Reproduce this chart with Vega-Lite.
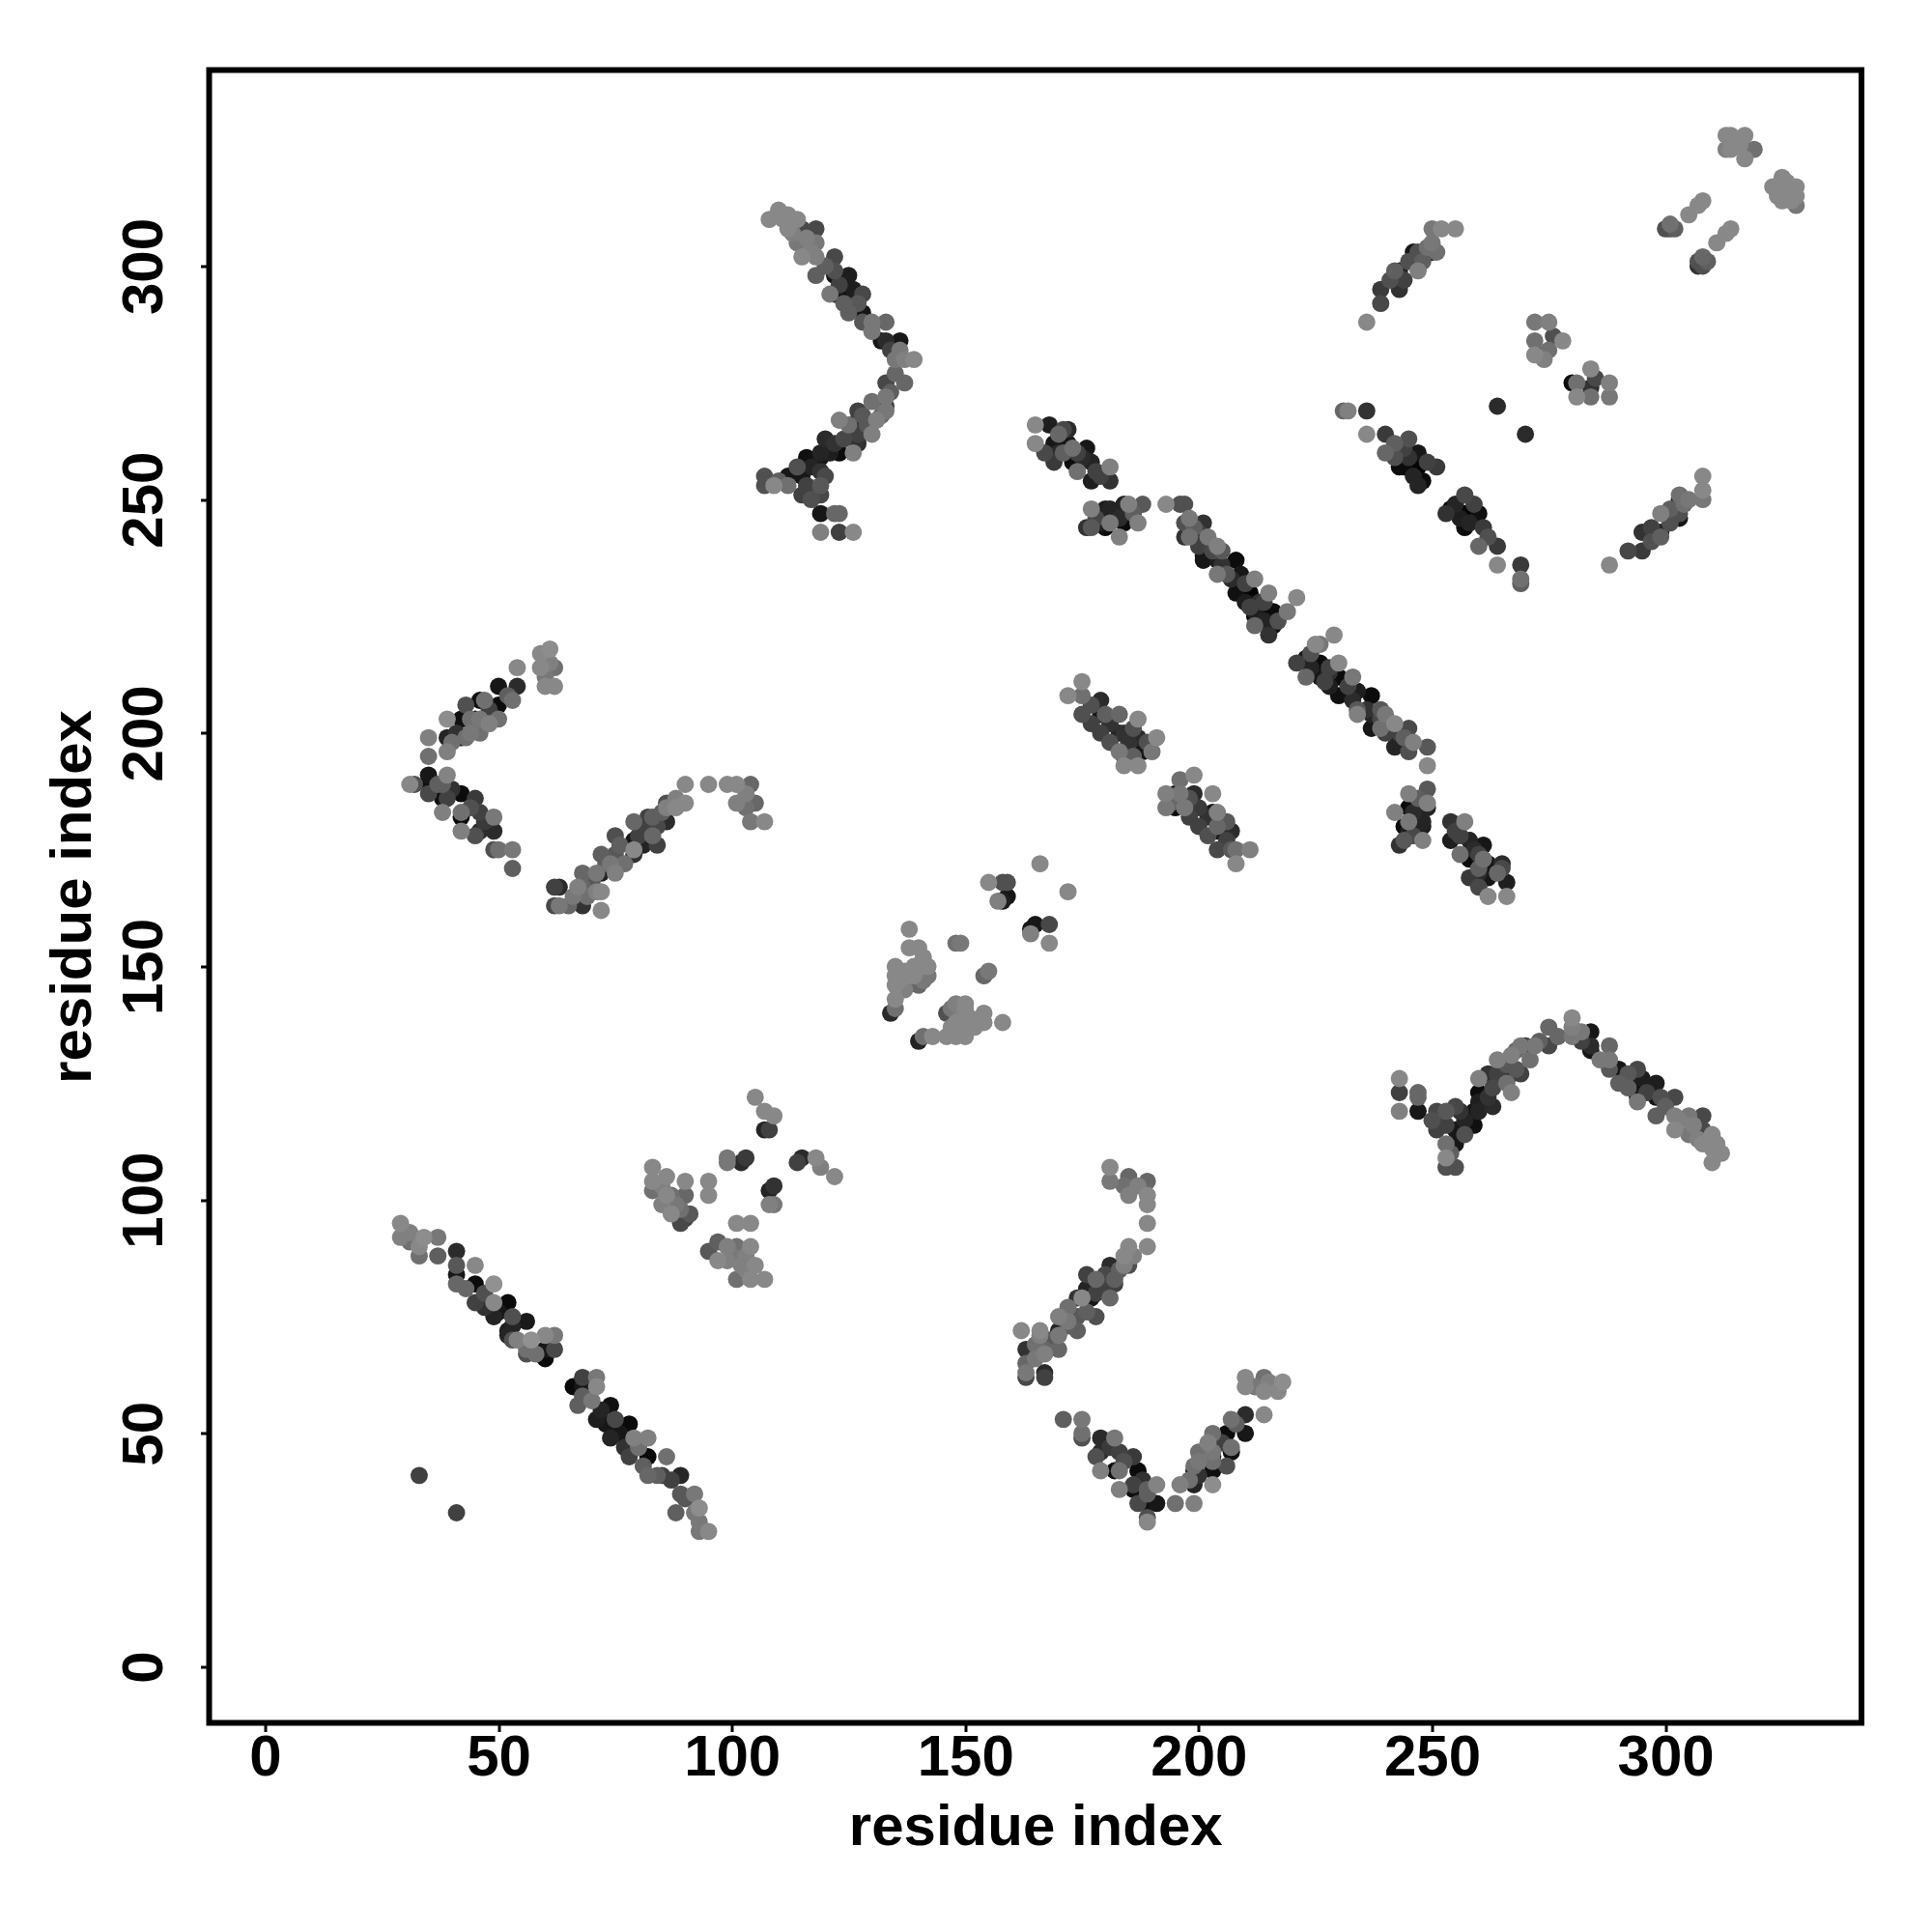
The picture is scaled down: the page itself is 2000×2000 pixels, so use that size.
{"$schema":"https://vega.github.io/schema/vega-lite/v6.json","width":1710.5,"height":1711,"autosize":{"type":"none"},"padding":{"left":216.5,"top":72.5,"right":73,"bottom":216.5},"background":"white","config":{"view":{"stroke":"#000000","strokeWidth":6}},"data":{"values":[
{"x":29,"y":92,"g":20},{"x":29,"y":95,"g":15},{"x":31,"y":93,"g":20},{"x":33,"y":88,"g":30},{"x":34,"y":92,"g":12},{"x":37,"y":88,"g":40},{"x":37,"y":92,"g":25},{"x":41,"y":84,"g":90},{"x":41,"y":82,"g":35},{"x":41,"y":86,"g":45},{"x":41,"y":89,"g":75},{"x":45,"y":82,"g":97},{"x":45,"y":78,"g":60},{"x":45,"y":86,"g":15},{"x":48,"y":77,"g":97},{"x":49,"y":75,"g":80},{"x":49,"y":78,"g":15},{"x":49,"y":82,"g":10},{"x":52,"y":78,"g":98},{"x":52,"y":71,"g":80},{"x":53,"y":75,"g":50},{"x":53,"y":70,"g":50},{"x":56,"y":74,"g":88},{"x":56,"y":67,"g":50},{"x":57,"y":70,"g":10},{"x":60,"y":66,"g":98},{"x":60,"y":68,"g":90},{"x":60,"y":71,"g":15},{"x":62,"y":68,"g":55},{"x":62,"y":71,"g":25},
{"x":31,"y":91,"g":30},{"x":33,"y":90,"g":15},{"x":43,"y":81,"g":35},{"x":47,"y":80,"g":50},{"x":47,"y":77,"g":70},{"x":50,"y":76,"g":90},{"x":53,"y":73,"g":80},{"x":52,"y":72,"g":85},{"x":54,"y":70,"g":20},{"x":56,"y":68,"g":30},{"x":58,"y":67,"g":30},
{"x":68,"y":58,"g":40},{"x":70,"y":57,"g":25},{"x":72,"y":55,"g":80},{"x":73,"y":52,"g":90},{"x":76,"y":50,"g":90},{"x":77,"y":47,"g":70},{"x":80,"y":47,"g":30},{"x":81,"y":43,"g":40},{"x":84,"y":41,"g":40},{"x":87,"y":40,"g":60},{"x":90,"y":36,"g":45},{"x":92,"y":33,"g":25},
{"x":66,"y":60,"g":98},{"x":67,"y":56,"g":40},{"x":68,"y":62,"g":60},{"x":68,"y":60,"g":90},{"x":71,"y":53,"g":85},{"x":71,"y":60,"g":15},{"x":71,"y":62,"g":25},{"x":74,"y":49,"g":80},{"x":74,"y":56,"g":95},{"x":75,"y":53,"g":55},{"x":78,"y":45,"g":60},{"x":78,"y":48,"g":98},{"x":78,"y":52,"g":98},{"x":79,"y":49,"g":20},{"x":82,"y":41,"g":35},{"x":82,"y":45,"g":98},{"x":82,"y":49,"g":20},{"x":85,"y":41,"g":60},{"x":86,"y":45,"g":30},{"x":88,"y":33,"g":40},{"x":89,"y":37,"g":45},{"x":89,"y":41,"g":78},{"x":92,"y":37,"g":25},{"x":93,"y":29,"g":25},{"x":93,"y":31,"g":25},{"x":93,"y":34,"g":12},{"x":95,"y":29,"g":15},
{"x":33,"y":41,"g":60},{"x":41,"y":33,"g":60},
{"x":31,"y":189,"g":15},{"x":32,"y":189,"g":50},{"x":35,"y":187,"g":55},{"x":35,"y":189,"g":95},{"x":35,"y":191,"g":90},{"x":38,"y":186,"g":95},{"x":38,"y":183,"g":20},{"x":38,"y":189,"g":40},{"x":39,"y":186,"g":60},{"x":39,"y":191,"g":18},{"x":42,"y":182,"g":97},{"x":42,"y":183,"g":30},{"x":42,"y":179,"g":20},{"x":42,"y":187,"g":97},{"x":45,"y":178,"g":50},{"x":45,"y":186,"g":65},{"x":46,"y":179,"g":75},{"x":46,"y":183,"g":60},{"x":49,"y":175,"g":50},{"x":49,"y":179,"g":75},{"x":49,"y":182,"g":25},{"x":50,"y":175,"g":30},{"x":53,"y":171,"g":40},{"x":53,"y":175,"g":25},
{"x":37,"y":189,"g":40},{"x":40,"y":188,"g":70},{"x":44,"y":184,"g":50},{"x":47,"y":181,"g":65},{"x":41,"y":200,"g":70},{"x":44,"y":203,"g":30},{"x":48,"y":205,"g":60},{"x":52,"y":208,"g":40},{"x":44,"y":200,"g":25},{"x":40,"y":198,"g":30},{"x":48,"y":202,"g":20},{"x":60,"y":212,"g":25},{"x":61,"y":215,"g":20},
{"x":35,"y":195,"g":30},{"x":35,"y":199,"g":20},{"x":39,"y":196,"g":20},{"x":39,"y":199,"g":80},{"x":39,"y":203,"g":12},{"x":42,"y":199,"g":95},{"x":42,"y":203,"g":95},{"x":43,"y":199,"g":30},{"x":43,"y":206,"g":50},{"x":45,"y":203,"g":90},{"x":46,"y":200,"g":30},{"x":46,"y":203,"g":25},{"x":46,"y":207,"g":95},{"x":47,"y":207,"g":30},{"x":50,"y":206,"g":97},{"x":50,"y":203,"g":30},{"x":50,"y":210,"g":90},{"x":53,"y":207,"g":30},{"x":54,"y":210,"g":75},{"x":54,"y":214,"g":15},{"x":59,"y":214,"g":15},{"x":59,"y":217,"g":15},{"x":60,"y":210,"g":15},{"x":62,"y":214,"g":30},{"x":62,"y":210,"g":15},{"x":61,"y":218,"g":12},
{"x":62,"y":163,"g":55},{"x":62,"y":167,"g":60},{"x":63,"y":167,"g":75},{"x":63,"y":163,"g":25},{"x":65,"y":163,"g":35},{"x":68,"y":163,"g":70},{"x":67,"y":167,"g":20},{"x":68,"y":167,"g":35},{"x":68,"y":170,"g":35},{"x":71,"y":166,"g":20},{"x":72,"y":166,"g":15},{"x":72,"y":162,"g":15},{"x":71,"y":170,"g":25},{"x":72,"y":170,"g":80},{"x":72,"y":174,"g":40},{"x":75,"y":170,"g":20},{"x":75,"y":174,"g":45},{"x":75,"y":178,"g":50},{"x":79,"y":174,"g":70},{"x":79,"y":175,"g":15},{"x":79,"y":177,"g":90},{"x":79,"y":181,"g":35},{"x":82,"y":182,"g":60},{"x":83,"y":178,"g":35},{"x":83,"y":182,"g":40},{"x":86,"y":181,"g":75},{"x":86,"y":185,"g":50},{"x":86,"y":184,"g":20},{"x":90,"y":185,"g":15},{"x":90,"y":189,"g":15},{"x":95,"y":189,"g":15},{"x":99,"y":189,"g":15},{"x":101,"y":189,"g":15},{"x":101,"y":185,"g":20},{"x":104,"y":189,"g":35},{"x":105,"y":185,"g":35},{"x":104,"y":181,"g":25},{"x":107,"y":181,"g":15},
{"x":66,"y":165,"g":25},{"x":69,"y":165,"g":30},{"x":70,"y":168,"g":45},{"x":73,"y":172,"g":40},{"x":74,"y":172,"g":25},{"x":76,"y":176,"g":40},{"x":77,"y":172,"g":30},{"x":80,"y":178,"g":60},{"x":81,"y":176,"g":80},{"x":81,"y":180,"g":60},{"x":84,"y":180,"g":55},{"x":84,"y":176,"g":60},{"x":85,"y":183,"g":40},{"x":88,"y":186,"g":20},{"x":88,"y":184,"g":15},{"x":103,"y":187,"g":20},{"x":103,"y":184,"g":30},
{"x":83,"y":102,"g":30},{"x":83,"y":104,"g":15},{"x":83,"y":107,"g":15},{"x":86,"y":101,"g":15},{"x":86,"y":105,"g":15},{"x":87,"y":97,"g":15},{"x":87,"y":101,"g":30},{"x":89,"y":95,"g":55},{"x":90,"y":96,"g":60},{"x":90,"y":101,"g":35},{"x":90,"y":104,"g":15},{"x":91,"y":97,"g":45},{"x":95,"y":101,"g":15},{"x":95,"y":104,"g":15},{"x":95,"y":89,"g":45},{"x":97,"y":87,"g":15},{"x":97,"y":91,"g":40},{"x":99,"y":90,"g":20},{"x":99,"y":108,"g":25},{"x":99,"y":109,"g":25},{"x":101,"y":90,"g":30},{"x":101,"y":83,"g":30},{"x":101,"y":95,"g":15},{"x":102,"y":86,"g":20},{"x":102,"y":108,"g":75},{"x":103,"y":109,"g":65},{"x":104,"y":83,"g":15},{"x":104,"y":90,"g":15},{"x":104,"y":95,"g":15},{"x":105,"y":86,"g":15},{"x":105,"y":122,"g":15},{"x":107,"y":83,"g":15},{"x":107,"y":115,"g":80},{"x":108,"y":115,"g":60},{"x":107,"y":119,"g":15},{"x":109,"y":118,"g":15},{"x":108,"y":102,"g":80},{"x":109,"y":103,"g":70},{"x":108,"y":99,"g":20},{"x":109,"y":99,"g":25},{"x":114,"y":108,"g":60},{"x":115,"y":109,"g":75},{"x":118,"y":109,"g":15},{"x":119,"y":107,"g":20},{"x":122,"y":105,"g":15},
{"x":85,"y":103,"g":20},{"x":88,"y":99,"g":25},{"x":89,"y":98,"g":30},{"x":100,"y":88,"g":25},{"x":103,"y":85,"g":20},{"x":99,"y":87,"g":20},{"x":103,"y":88,"g":20},{"x":85,"y":99,"g":20},
{"x":107,"y":253,"g":50},{"x":107,"y":255,"g":50},{"x":109,"y":253,"g":15},{"x":112,"y":253,"g":30},{"x":112,"y":255,"g":90},{"x":115,"y":251,"g":60},{"x":115,"y":255,"g":90},{"x":116,"y":259,"g":95},{"x":119,"y":251,"g":55},{"x":119,"y":253,"g":45},{"x":119,"y":256,"g":70},{"x":119,"y":259,"g":90},{"x":119,"y":260,"g":80},{"x":119,"y":247,"g":90},{"x":119,"y":243,"g":20},{"x":122,"y":247,"g":35},{"x":123,"y":247,"g":35},{"x":123,"y":243,"g":60},{"x":126,"y":243,"g":15},{"x":120,"y":263,"g":75},{"x":123,"y":260,"g":97},{"x":123,"y":267,"g":20},{"x":124,"y":263,"g":55},{"x":126,"y":260,"g":20},{"x":127,"y":262,"g":70},{"x":127,"y":264,"g":60},{"x":127,"y":267,"g":80},{"x":127,"y":269,"g":60},{"x":130,"y":264,"g":20},{"x":130,"y":271,"g":30},{"x":131,"y":267,"g":20},{"x":133,"y":270,"g":65},{"x":133,"y":269,"g":25},{"x":133,"y":272,"g":25},{"x":133,"y":275,"g":55},{"x":137,"y":275,"g":35},{"x":135,"y":280,"g":25},{"x":137,"y":280,"g":20},{"x":139,"y":280,"g":15},
{"x":132,"y":284,"g":90},{"x":133,"y":284,"g":75},{"x":136,"y":284,"g":90},{"x":128,"y":288,"g":45},{"x":130,"y":288,"g":25},{"x":133,"y":288,"g":35},{"x":125,"y":290,"g":40},{"x":128,"y":290,"g":90},{"x":121,"y":294,"g":25},{"x":122,"y":294,"g":90},{"x":125,"y":294,"g":95},{"x":128,"y":294,"g":55},{"x":126,"y":295,"g":85},{"x":118,"y":298,"g":40},{"x":122,"y":298,"g":90},{"x":122,"y":299,"g":50},{"x":125,"y":298,"g":85},{"x":115,"y":302,"g":15},{"x":118,"y":302,"g":20},{"x":122,"y":302,"g":55},{"x":114,"y":305,"g":25},{"x":118,"y":305,"g":25},{"x":112,"y":308,"g":15},{"x":115,"y":308,"g":55},{"x":118,"y":308,"g":55},{"x":108,"y":310,"g":15},{"x":111,"y":310,"g":15},{"x":114,"y":310,"g":15},{"x":112,"y":311,"g":15},{"x":110,"y":312,"g":15},
{"x":113,"y":307,"g":20},{"x":116,"y":306,"g":20},{"x":117,"y":303,"g":20},{"x":120,"y":300,"g":40},{"x":123,"y":296,"g":60},{"x":124,"y":292,"g":40},{"x":127,"y":292,"g":45},{"x":130,"y":286,"g":25},{"x":134,"y":282,"g":60},{"x":136,"y":282,"g":25},{"x":135,"y":277,"g":35},{"x":134,"y":273,"g":40},{"x":132,"y":268,"g":35},{"x":129,"y":266,"g":45},{"x":126,"y":265,"g":65},{"x":122,"y":262,"g":70},{"x":121,"y":260,"g":85},{"x":117,"y":257,"g":80},{"x":114,"y":257,"g":50},{"x":110,"y":254,"g":40},{"x":117,"y":250,"g":50},{"x":116,"y":253,"g":60},{"x":120,"y":255,"g":55},{"x":125,"y":266,"g":30},{"x":128,"y":268,"g":45},
{"x":134,"y":140,"g":75},{"x":135,"y":141,"g":30},{"x":135,"y":143,"g":15},{"x":135,"y":146,"g":15},{"x":135,"y":148,"g":15},{"x":135,"y":150,"g":15},{"x":138,"y":154,"g":15},{"x":138,"y":158,"g":15},{"x":139,"y":148,"g":15},{"x":139,"y":150,"g":15},{"x":140,"y":146,"g":35},{"x":140,"y":154,"g":15},{"x":140,"y":134,"g":80},{"x":141,"y":135,"g":30},{"x":142,"y":148,"g":25},{"x":142,"y":150,"g":15},{"x":143,"y":135,"g":15},{"x":146,"y":135,"g":15},{"x":146,"y":140,"g":50},{"x":148,"y":135,"g":15},{"x":148,"y":138,"g":15},{"x":148,"y":142,"g":20},{"x":148,"y":155,"g":30},{"x":149,"y":155,"g":25},{"x":150,"y":135,"g":15},{"x":150,"y":142,"g":15},{"x":154,"y":138,"g":15},{"x":154,"y":140,"g":15},{"x":154,"y":148,"g":35},{"x":155,"y":149,"g":25},{"x":158,"y":138,"g":15},{"x":155,"y":168,"g":15},{"x":157,"y":164,"g":20},{"x":158,"y":164,"g":85},{"x":159,"y":165,"g":90},{"x":158,"y":168,"g":50},{"x":159,"y":168,"g":50},{"x":164,"y":157,"g":20},{"x":164,"y":158,"g":90},{"x":165,"y":159,"g":90},{"x":168,"y":155,"g":15},{"x":168,"y":159,"g":55},{"x":166,"y":172,"g":15},{"x":172,"y":166,"g":15},
{"x":136,"y":147,"g":15},{"x":137,"y":149,"g":15},{"x":141,"y":150,"g":15},{"x":141,"y":147,"g":25},{"x":147,"y":137,"g":15},{"x":149,"y":136,"g":15},{"x":150,"y":141,"g":15},{"x":152,"y":137,"g":15},{"x":149,"y":141,"g":20},{"x":147,"y":141,"g":25},{"x":151,"y":139,"g":15},{"x":150,"y":137,"g":15},{"x":137,"y":145,"g":20},{"x":141,"y":152,"g":15},
{"x":165,"y":262,"g":15},{"x":165,"y":266,"g":15},{"x":168,"y":266,"g":85},{"x":169,"y":258,"g":65},{"x":169,"y":262,"g":90},{"x":171,"y":265,"g":55},{"x":172,"y":265,"g":75},{"x":172,"y":262,"g":90},{"x":173,"y":258,"g":97},{"x":173,"y":261,"g":30},{"x":176,"y":261,"g":90},{"x":177,"y":254,"g":85},{"x":177,"y":258,"g":80},{"x":181,"y":254,"g":70},{"x":181,"y":257,"g":20},
{"x":167,"y":260,"g":55},{"x":170,"y":260,"g":75},{"x":170,"y":264,"g":35},{"x":174,"y":260,"g":60},{"x":175,"y":259,"g":75},{"x":178,"y":256,"g":60},{"x":171,"y":260,"g":40},{"x":174,"y":256,"g":30},{"x":179,"y":255,"g":60},
{"x":176,"y":244,"g":70},{"x":177,"y":244,"g":45},{"x":177,"y":248,"g":20},{"x":180,"y":244,"g":97},{"x":180,"y":248,"g":85},{"x":181,"y":245,"g":25},{"x":181,"y":248,"g":80},{"x":183,"y":242,"g":20},{"x":184,"y":245,"g":97},{"x":184,"y":249,"g":80},{"x":185,"y":249,"g":20},{"x":187,"y":245,"g":20},{"x":188,"y":249,"g":45},
{"x":178,"y":246,"g":55},{"x":182,"y":247,"g":80},{"x":183,"y":246,"g":75},{"x":186,"y":247,"g":40},{"x":179,"y":245,"g":85},
{"x":193,"y":249,"g":15},{"x":196,"y":249,"g":50},{"x":197,"y":249,"g":50},{"x":197,"y":242,"g":70},{"x":197,"y":245,"g":50},{"x":198,"y":242,"g":30},{"x":198,"y":246,"g":25},{"x":201,"y":238,"g":90},{"x":201,"y":237,"g":90},{"x":201,"y":242,"g":90},{"x":201,"y":245,"g":70},{"x":202,"y":242,"g":25},{"x":204,"y":234,"g":25},{"x":204,"y":237,"g":85},{"x":204,"y":240,"g":20},{"x":206,"y":234,"g":45},{"x":208,"y":230,"g":95},{"x":208,"y":237,"g":97},{"x":209,"y":234,"g":90},{"x":211,"y":230,"g":100},{"x":212,"y":223,"g":35},{"x":212,"y":225,"g":97},{"x":212,"y":226,"g":85},{"x":212,"y":233,"g":20},{"x":215,"y":221,"g":70},{"x":216,"y":223,"g":95},{"x":215,"y":226,"g":97},{"x":216,"y":226,"g":97},{"x":215,"y":230,"g":20},{"x":219,"y":226,"g":25},{"x":221,"y":229,"g":15},
{"x":199,"y":244,"g":40},{"x":200,"y":240,"g":60},{"x":203,"y":239,"g":55},{"x":205,"y":236,"g":70},{"x":207,"y":233,"g":75},{"x":210,"y":232,"g":60},{"x":210,"y":228,"g":85},{"x":213,"y":228,"g":70},{"x":214,"y":224,"g":80},{"x":214,"y":228,"g":60},{"x":217,"y":224,"g":50},{"x":200,"y":243,"g":60},{"x":205,"y":239,"g":45},{"x":211,"y":227,"g":60},
{"x":221,"y":215,"g":60},{"x":223,"y":216,"g":90},{"x":223,"y":212,"g":35},{"x":225,"y":219,"g":15},{"x":226,"y":212,"g":90},{"x":226,"y":215,"g":97},{"x":226,"y":219,"g":25},{"x":229,"y":221,"g":15},{"x":230,"y":208,"g":95},{"x":230,"y":212,"g":97},{"x":230,"y":215,"g":15},{"x":233,"y":212,"g":25},{"x":234,"y":204,"g":20},{"x":234,"y":205,"g":45},{"x":234,"y":209,"g":85},{"x":237,"y":201,"g":90},{"x":237,"y":204,"g":80},{"x":237,"y":208,"g":97},{"x":239,"y":201,"g":30},{"x":240,"y":204,"g":25},{"x":242,"y":197,"g":80},{"x":242,"y":200,"g":95},{"x":242,"y":202,"g":15},{"x":245,"y":196,"g":50},{"x":245,"y":198,"g":80},{"x":245,"y":201,"g":55},{"x":246,"y":198,"g":20},{"x":249,"y":193,"g":15},{"x":249,"y":197,"g":45},
{"x":244,"y":199,"g":40},{"x":240,"y":200,"g":60},{"x":239,"y":203,"g":55},{"x":236,"y":205,"g":70},{"x":233,"y":207,"g":75},{"x":232,"y":210,"g":60},{"x":228,"y":210,"g":85},{"x":228,"y":213,"g":70},{"x":224,"y":214,"g":80},{"x":228,"y":214,"g":60},{"x":224,"y":217,"g":50},{"x":243,"y":200,"g":60},{"x":239,"y":205,"g":45},{"x":227,"y":211,"g":60},
{"x":172,"y":208,"g":15},{"x":175,"y":204,"g":50},{"x":175,"y":208,"g":30},{"x":175,"y":211,"g":15},{"x":179,"y":200,"g":60},{"x":179,"y":204,"g":90},{"x":179,"y":207,"g":75},{"x":180,"y":204,"g":40},{"x":183,"y":196,"g":25},{"x":183,"y":200,"g":80},{"x":183,"y":204,"g":35},{"x":184,"y":193,"g":15},{"x":184,"y":195,"g":97},{"x":184,"y":200,"g":70},{"x":187,"y":193,"g":15},{"x":187,"y":199,"g":75},{"x":187,"y":203,"g":15},{"x":188,"y":196,"g":90},{"x":190,"y":196,"g":25},{"x":191,"y":199,"g":15},
{"x":177,"y":206,"g":50},{"x":177,"y":202,"g":60},{"x":181,"y":202,"g":70},{"x":181,"y":198,"g":50},{"x":185,"y":198,"g":70},{"x":186,"y":201,"g":50},{"x":186,"y":195,"g":40},{"x":189,"y":198,"g":50},{"x":198,"y":186,"g":50},{"x":198,"y":182,"g":60},{"x":202,"y":182,"g":70},{"x":202,"y":178,"g":50},{"x":206,"y":177,"g":60},{"x":206,"y":181,"g":45},{"x":194,"y":185,"g":35},{"x":207,"y":175,"g":45},
{"x":193,"y":184,"g":25},{"x":193,"y":187,"g":20},{"x":195,"y":184,"g":97},{"x":195,"y":187,"g":95},{"x":196,"y":187,"g":25},{"x":196,"y":190,"g":30},{"x":197,"y":184,"g":25},{"x":199,"y":187,"g":75},{"x":199,"y":191,"g":15},{"x":200,"y":180,"g":60},{"x":200,"y":184,"g":65},{"x":203,"y":183,"g":90},{"x":203,"y":187,"g":15},{"x":204,"y":175,"g":55},{"x":204,"y":179,"g":90},{"x":204,"y":180,"g":35},{"x":204,"y":183,"g":20},{"x":207,"y":179,"g":75},{"x":208,"y":172,"g":15},{"x":208,"y":175,"g":30},{"x":211,"y":175,"g":20},
{"x":231,"y":269,"g":35},{"x":232,"y":269,"g":20},{"x":236,"y":264,"g":15},{"x":236,"y":269,"g":70},{"x":240,"y":260,"g":35},{"x":240,"y":264,"g":65},{"x":243,"y":257,"g":97},{"x":244,"y":257,"g":97},{"x":244,"y":261,"g":60},{"x":247,"y":253,"g":80},{"x":247,"y":257,"g":100},{"x":247,"y":260,"g":90},{"x":248,"y":254,"g":97},{"x":251,"y":257,"g":65},{"x":253,"y":247,"g":70},{"x":254,"y":248,"g":97},{"x":257,"y":244,"g":97},{"x":257,"y":247,"g":100},{"x":257,"y":251,"g":55},{"x":260,"y":240,"g":35},{"x":260,"y":247,"g":95},{"x":261,"y":244,"g":65},{"x":264,"y":236,"g":15},{"x":264,"y":240,"g":65},{"x":269,"y":232,"g":40},{"x":269,"y":233,"g":30},{"x":269,"y":236,"g":65},{"x":264,"y":270,"g":75},{"x":270,"y":264,"g":75},
{"x":242,"y":262,"g":40},{"x":245,"y":259,"g":70},{"x":246,"y":255,"g":80},{"x":249,"y":258,"g":60},{"x":255,"y":249,"g":80},{"x":256,"y":246,"g":85},{"x":258,"y":245,"g":80},{"x":259,"y":249,"g":60},{"x":262,"y":242,"g":50},{"x":245,"y":263,"g":50},{"x":242,"y":259,"g":50},
{"x":236,"y":288,"g":15},{"x":239,"y":292,"g":55},{"x":239,"y":295,"g":65},{"x":243,"y":295,"g":70},{"x":242,"y":299,"g":40},{"x":243,"y":299,"g":80},{"x":247,"y":299,"g":20},{"x":246,"y":303,"g":90},{"x":247,"y":303,"g":50},{"x":250,"y":303,"g":90},{"x":251,"y":303,"g":30},{"x":250,"y":305,"g":25},{"x":250,"y":308,"g":25},{"x":252,"y":308,"g":15},{"x":255,"y":308,"g":15},
{"x":241,"y":297,"g":50},{"x":244,"y":297,"g":60},{"x":245,"y":301,"g":50},{"x":248,"y":301,"g":40},{"x":249,"y":304,"g":30},
{"x":272,"y":281,"g":15},{"x":272,"y":284,"g":30},{"x":272,"y":288,"g":25},{"x":274,"y":281,"g":97},{"x":274,"y":280,"g":20},{"x":275,"y":282,"g":30},{"x":275,"y":288,"g":20},{"x":276,"y":285,"g":50},{"x":278,"y":284,"g":15},{"x":280,"y":275,"g":97},{"x":281,"y":275,"g":30},{"x":281,"y":272,"g":15},{"x":284,"y":274,"g":70},{"x":284,"y":272,"g":30},{"x":284,"y":278,"g":15},{"x":285,"y":276,"g":55},{"x":288,"y":272,"g":25},{"x":288,"y":275,"g":20},
{"x":300,"y":308,"g":50},{"x":301,"y":308,"g":50},{"x":302,"y":308,"g":40},{"x":305,"y":311,"g":15},{"x":307,"y":313,"g":15},{"x":308,"y":314,"g":15},{"x":307,"y":300,"g":70},{"x":308,"y":300,"g":50},{"x":308,"y":302,"g":35},{"x":311,"y":305,"g":15},{"x":313,"y":307,"g":15},{"x":314,"y":308,"g":15},{"x":301,"y":309,"g":30},{"x":307,"y":301,"g":50},{"x":309,"y":301,"g":40},
{"x":313,"y":325,"g":20},{"x":313,"y":328,"g":15},{"x":314,"y":325,"g":15},{"x":314,"y":328,"g":15},{"x":317,"y":323,"g":15},{"x":317,"y":328,"g":15},{"x":319,"y":325,"g":30},{"x":323,"y":317,"g":15},{"x":324,"y":317,"g":15},{"x":325,"y":319,"g":15},{"x":325,"y":314,"g":15},{"x":326,"y":316,"g":15},{"x":328,"y":313,"g":25},{"x":328,"y":315,"g":15},{"x":328,"y":317,"g":15},{"x":315,"y":326,"g":15},{"x":316,"y":326,"g":15},{"x":326,"y":318,"g":15},{"x":327,"y":314,"g":15},{"x":324,"y":315,"g":15},
{"x":189,"y":31,"g":15},{"x":189,"y":32,"g":50},{"x":187,"y":35,"g":55},{"x":189,"y":35,"g":95},{"x":191,"y":35,"g":90},{"x":186,"y":38,"g":95},{"x":183,"y":38,"g":20},{"x":189,"y":38,"g":40},{"x":186,"y":39,"g":60},{"x":191,"y":39,"g":18},{"x":182,"y":42,"g":97},{"x":183,"y":42,"g":30},{"x":179,"y":42,"g":20},{"x":187,"y":42,"g":97},{"x":178,"y":45,"g":50},{"x":186,"y":45,"g":65},{"x":179,"y":46,"g":75},{"x":183,"y":46,"g":60},{"x":175,"y":49,"g":50},{"x":179,"y":49,"g":75},{"x":182,"y":49,"g":25},{"x":175,"y":50,"g":30},{"x":171,"y":53,"g":40},{"x":175,"y":53,"g":25},
{"x":189,"y":37,"g":40},{"x":188,"y":40,"g":70},{"x":184,"y":44,"g":50},{"x":181,"y":47,"g":65},{"x":200,"y":41,"g":70},{"x":203,"y":44,"g":30},{"x":205,"y":48,"g":60},{"x":208,"y":52,"g":40},{"x":200,"y":44,"g":25},{"x":198,"y":40,"g":30},{"x":202,"y":48,"g":20},{"x":212,"y":60,"g":25},{"x":215,"y":61,"g":20},
{"x":195,"y":35,"g":30},{"x":199,"y":35,"g":20},{"x":196,"y":39,"g":20},{"x":199,"y":39,"g":80},{"x":203,"y":39,"g":12},{"x":199,"y":42,"g":95},{"x":203,"y":42,"g":95},{"x":199,"y":43,"g":30},{"x":206,"y":43,"g":50},{"x":203,"y":45,"g":90},{"x":200,"y":46,"g":30},{"x":203,"y":46,"g":25},{"x":207,"y":46,"g":95},{"x":207,"y":47,"g":30},{"x":206,"y":50,"g":97},{"x":203,"y":50,"g":30},{"x":210,"y":50,"g":90},{"x":207,"y":53,"g":30},{"x":210,"y":54,"g":75},{"x":214,"y":54,"g":15},{"x":214,"y":59,"g":15},{"x":217,"y":59,"g":15},{"x":210,"y":60,"g":15},{"x":214,"y":62,"g":30},{"x":210,"y":62,"g":15},{"x":218,"y":61,"g":12},
{"x":163,"y":62,"g":55},{"x":167,"y":62,"g":60},{"x":167,"y":63,"g":75},{"x":163,"y":63,"g":25},{"x":163,"y":65,"g":35},{"x":163,"y":68,"g":70},{"x":167,"y":67,"g":20},{"x":167,"y":68,"g":35},{"x":170,"y":68,"g":35},{"x":166,"y":71,"g":20},{"x":166,"y":72,"g":15},{"x":162,"y":72,"g":15},{"x":170,"y":71,"g":25},{"x":170,"y":72,"g":80},{"x":174,"y":72,"g":40},{"x":170,"y":75,"g":20},{"x":174,"y":75,"g":45},{"x":178,"y":75,"g":50},{"x":174,"y":79,"g":70},{"x":175,"y":79,"g":15},{"x":177,"y":79,"g":90},{"x":181,"y":79,"g":35},{"x":182,"y":82,"g":60},{"x":178,"y":83,"g":35},{"x":182,"y":83,"g":40},{"x":181,"y":86,"g":75},{"x":185,"y":86,"g":50},{"x":184,"y":86,"g":20},{"x":185,"y":90,"g":15},{"x":189,"y":90,"g":15},{"x":189,"y":95,"g":15},{"x":189,"y":99,"g":15},{"x":189,"y":101,"g":15},{"x":185,"y":101,"g":20},{"x":189,"y":104,"g":35},{"x":185,"y":105,"g":35},{"x":181,"y":104,"g":25},{"x":181,"y":107,"g":15},
{"x":165,"y":66,"g":25},{"x":165,"y":69,"g":30},{"x":168,"y":70,"g":45},{"x":172,"y":73,"g":40},{"x":172,"y":74,"g":25},{"x":176,"y":76,"g":40},{"x":172,"y":77,"g":30},{"x":178,"y":80,"g":60},{"x":176,"y":81,"g":80},{"x":180,"y":81,"g":60},{"x":180,"y":84,"g":55},{"x":176,"y":84,"g":60},{"x":183,"y":85,"g":40},{"x":186,"y":88,"g":20},{"x":184,"y":88,"g":15},{"x":187,"y":103,"g":20},{"x":184,"y":103,"g":30},
{"x":253,"y":107,"g":50},{"x":255,"y":107,"g":50},{"x":253,"y":109,"g":15},{"x":253,"y":112,"g":30},{"x":255,"y":112,"g":90},{"x":251,"y":115,"g":60},{"x":255,"y":115,"g":90},{"x":259,"y":116,"g":95},{"x":251,"y":119,"g":55},{"x":253,"y":119,"g":45},{"x":256,"y":119,"g":70},{"x":259,"y":119,"g":90},{"x":260,"y":119,"g":80},{"x":247,"y":119,"g":90},{"x":243,"y":119,"g":20},{"x":247,"y":122,"g":35},{"x":247,"y":123,"g":35},{"x":243,"y":123,"g":60},{"x":243,"y":126,"g":15},{"x":263,"y":120,"g":75},{"x":260,"y":123,"g":97},{"x":267,"y":123,"g":20},{"x":263,"y":124,"g":55},{"x":260,"y":126,"g":20},{"x":262,"y":127,"g":70},{"x":264,"y":127,"g":60},{"x":267,"y":127,"g":80},{"x":269,"y":127,"g":60},{"x":264,"y":130,"g":20},{"x":271,"y":130,"g":30},{"x":267,"y":131,"g":20},{"x":270,"y":133,"g":65},{"x":269,"y":133,"g":25},{"x":272,"y":133,"g":25},{"x":275,"y":133,"g":55},{"x":275,"y":137,"g":35},{"x":280,"y":135,"g":25},{"x":280,"y":137,"g":20},{"x":280,"y":139,"g":15},
{"x":284,"y":132,"g":90},{"x":284,"y":133,"g":75},{"x":284,"y":136,"g":90},{"x":288,"y":128,"g":45},{"x":288,"y":130,"g":25},{"x":288,"y":133,"g":35},{"x":290,"y":125,"g":40},{"x":290,"y":128,"g":90},{"x":294,"y":121,"g":25},{"x":294,"y":122,"g":90},{"x":294,"y":125,"g":95},{"x":294,"y":128,"g":55},{"x":295,"y":126,"g":85},{"x":298,"y":118,"g":40},{"x":298,"y":122,"g":90},{"x":299,"y":122,"g":50},{"x":298,"y":125,"g":85},{"x":302,"y":115,"g":15},{"x":302,"y":118,"g":20},{"x":302,"y":122,"g":55},{"x":305,"y":114,"g":25},{"x":305,"y":118,"g":25},{"x":308,"y":112,"g":15},{"x":308,"y":115,"g":55},{"x":308,"y":118,"g":55},{"x":310,"y":108,"g":15},{"x":310,"y":111,"g":15},{"x":310,"y":114,"g":15},{"x":311,"y":112,"g":15},{"x":312,"y":110,"g":15},
{"x":307,"y":113,"g":20},{"x":306,"y":116,"g":20},{"x":303,"y":117,"g":20},{"x":300,"y":120,"g":40},{"x":296,"y":123,"g":60},{"x":292,"y":124,"g":40},{"x":292,"y":127,"g":45},{"x":286,"y":130,"g":25},{"x":282,"y":134,"g":60},{"x":282,"y":136,"g":25},{"x":277,"y":135,"g":35},{"x":273,"y":134,"g":40},{"x":268,"y":132,"g":35},{"x":266,"y":129,"g":45},{"x":265,"y":126,"g":65},{"x":262,"y":122,"g":70},{"x":260,"y":121,"g":85},{"x":257,"y":117,"g":80},{"x":257,"y":114,"g":50},{"x":254,"y":110,"g":40},{"x":250,"y":117,"g":50},{"x":253,"y":116,"g":60},{"x":255,"y":120,"g":55},{"x":266,"y":125,"g":30},{"x":268,"y":128,"g":45},
{"x":288,"y":236,"g":15},{"x":292,"y":239,"g":55},{"x":295,"y":239,"g":65},{"x":295,"y":243,"g":70},{"x":299,"y":242,"g":40},{"x":299,"y":243,"g":80},{"x":299,"y":247,"g":20},{"x":303,"y":246,"g":90},{"x":303,"y":247,"g":50},{"x":303,"y":250,"g":90},{"x":303,"y":251,"g":30},{"x":305,"y":250,"g":25},{"x":308,"y":250,"g":25},{"x":308,"y":252,"g":15},{"x":308,"y":255,"g":15},{"x":297,"y":241,"g":50},{"x":297,"y":244,"g":60},{"x":301,"y":245,"g":50},{"x":301,"y":248,"g":40},{"x":304,"y":249,"g":30},
{"x":243,"y":176,"g":70},{"x":244,"y":177,"g":45},{"x":248,"y":177,"g":20},{"x":244,"y":180,"g":97},{"x":248,"y":180,"g":85},{"x":245,"y":181,"g":25},{"x":248,"y":181,"g":80},{"x":242,"y":183,"g":20},{"x":245,"y":184,"g":97},{"x":249,"y":184,"g":80},{"x":249,"y":185,"g":20},{"x":245,"y":187,"g":20},{"x":249,"y":188,"g":45},{"x":246,"y":178,"g":55},{"x":247,"y":182,"g":80},{"x":246,"y":183,"g":75},{"x":247,"y":186,"g":40},{"x":245,"y":179,"g":85},
{"x":262,"y":165,"g":15},{"x":266,"y":165,"g":15},{"x":266,"y":168,"g":85},{"x":258,"y":169,"g":65},{"x":262,"y":169,"g":90},{"x":265,"y":171,"g":55},{"x":265,"y":172,"g":75},{"x":262,"y":172,"g":90},{"x":258,"y":173,"g":97},{"x":261,"y":173,"g":30},{"x":261,"y":176,"g":90},{"x":254,"y":177,"g":85},{"x":258,"y":177,"g":80},{"x":254,"y":181,"g":70},{"x":257,"y":181,"g":20},{"x":260,"y":167,"g":55},{"x":260,"y":170,"g":75},{"x":264,"y":170,"g":35},{"x":260,"y":174,"g":60},{"x":259,"y":175,"g":75},{"x":256,"y":178,"g":60},{"x":260,"y":171,"g":40},{"x":256,"y":174,"g":30},{"x":255,"y":179,"g":60}
]},"mark":{"type":"circle","size":320,"opacity":1},"encoding":{"order":{"field":"g","sort":"descending"},"x":{"field":"x","type":"quantitative","scale":{"domain":[-12,342],"nice":false,"zero":false},"axis":{"values":[0,50,100,150,200,250,300],"grid":false,"domain":false,"tickSize":9,"tickWidth":3,"tickColor":"#000","labelFont":"Liberation Sans","labelFontWeight":"bold","labelFontSize":60,"labelColor":"#000","labelPadding":-2,"title":"residue index","titleFont":"Liberation Sans","titleFontWeight":"bold","titleFontSize":60,"titleColor":"#000","titlePadding":13}},"y":{"field":"y","type":"quantitative","scale":{"domain":[-12,342],"nice":false,"zero":false},"axis":{"values":[0,50,100,150,200,250,300],"grid":false,"domain":false,"tickSize":9,"tickWidth":3,"tickColor":"#000","labelFont":"Liberation Sans","labelFontWeight":"bold","labelFontSize":60,"labelColor":"#000","labelAngle":-90,"labelAlign":"center","labelBaseline":"bottom","labelPadding":27,"title":"residue index","titleFont":"Liberation Sans","titleFontWeight":"bold","titleFontSize":60,"titleColor":"#000","titlePadding":13}},"color":{"field":"g","type":"quantitative","legend":null,"scale":{"domain":[0,100],"range":["#a2a2a2","#050505"]}}}}
